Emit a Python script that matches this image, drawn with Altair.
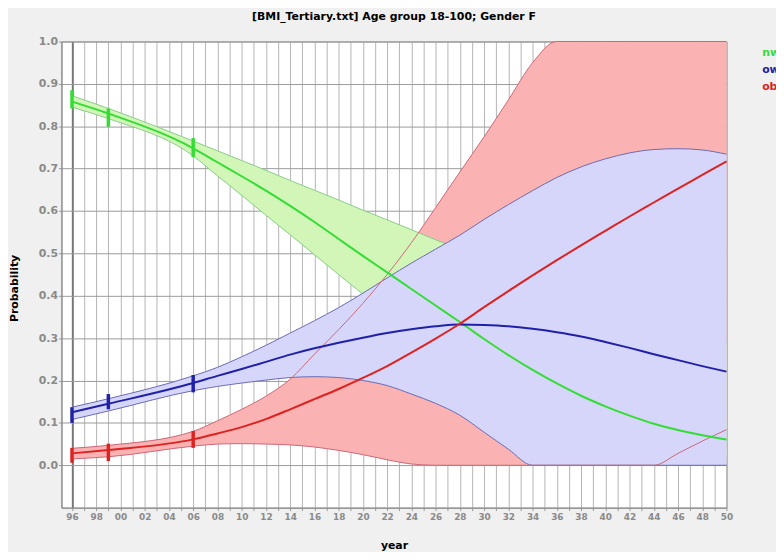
import altair as alt
import pandas as pd

TITLE = "[BMI_Tertiary.txt] Age group 18-100; Gender F"
SERIES = ["nw", "ow", "ob"]

YEARS = [1996, 1999, 2006, 2008, 2010, 2012, 2014, 2016, 2018, 2020, 2022, 2024,
         2026, 2028, 2030, 2032, 2034, 2036, 2038, 2040, 2042, 2044, 2046, 2048, 2050]

NW_MID = [.858, .830, .748, .715, .682, .648, .612, .574, .534, .494, .455, .416,
          .377, .338, .298, .260, .225, .193, .164, .139, .117, .098, .083, .071, .061]
NW_HI = [.872, .842, .765, .742, .719, .696, .672, .649, .626, .602, .579, .556,
         .532, .510, .490, .470, .450, .430, .410, .390, .370, .350, .330, .310, .290]
NW_LO = [.845, .818, .730, .683, .637, .590, .544, .497, .450, .404, .360, .320,
         .280, .245, .210, .180, .150, .125, .100, .080, .065, .050, .040, .030, .020]

OW_MID = [.125, .145, .194, .211, .227, .244, .261, .276, .289, .301, .312, .321,
          .328, .332, .331, .328, .322, .314, .304, .291, .277, .262, .248, .234, .221]
OW_HI = [.137, .157, .211, .231, .256, .283, .312, .341, .372, .406, .442, .477,
         .510, .543, .580, .615, .648, .679, .704, .723, .737, .745, .747, .744, .734]
OW_LO = [.108, .128, .176, .186, .194, .201, .207, .209, .207, .200, .188, .168,
         .146, .118, .078, .038, 0, 0, 0, 0, 0, 0, 0, 0, 0]

OB_MID = [.028, .036, .061, .075, .090, .109, .132, .156, .180, .206, .234, .266,
          .299, .334, .373, .411, .448, .484, .519, .553, .587, .620, .653, .685, .717]
OB_HI = [.040, .047, .080, .105, .132, .163, .203, .262, .320, .382, .450, .525,
         .608, .692, .775, .862, .950, 1, 1, 1, 1, 1, 1, 1, 1]
OB_LO = [.015, .020, .045, .050, .051, .050, .048, .043, .035, .025, .013, .003,
         0, 0, 0, 0, 0, 0, 0, 0, 0, 0, .028, .057, .084]

OBS_YEARS = [1996, 1999, 2006]
NW_ERR_LO = [.842, .799, .727]
NW_ERR_HI = [.885, .842, .772]
OW_ERR_LO = [.100, .132, .172]
OW_ERR_HI = [.137, .168, .213]
OB_ERR_LO = [.006, .010, .041]
OB_ERR_HI = [.041, .051, .081]

Y_TICKS = [0.0, 0.1, 0.2, 0.3, 0.4, 0.5, 0.6, 0.7, 0.8, 0.9, 1.0]
X_TICKS = list(range(1996, 2051))

LINE_COL = {"nw": "#33dd33", "ow": "#2020a8", "ob": "#dd2222"}
FILL_COL = {"nw": "#d2f6b8", "ow": "#d6d6fa", "ob": "#fbb2b2"}
EDGE_COL = {"nw": "#88cc88", "ow": "#6a6ab4", "ob": "#cc6677"}

df = pd.DataFrame({
    "year": YEARS,
    "nw": NW_MID, "nw_hi": NW_HI, "nw_lo": NW_LO,
    "ow": OW_MID, "ow_hi": OW_HI, "ow_lo": OW_LO,
    "ob": OB_MID, "ob_hi": OB_HI, "ob_lo": OB_LO,
})
err = pd.DataFrame({
    "year": OBS_YEARS,
    "nw_lo": NW_ERR_LO, "nw_hi": NW_ERR_HI,
    "ow_lo": OW_ERR_LO, "ow_hi": OW_ERR_HI,
    "ob_lo": OB_ERR_LO, "ob_hi": OB_ERR_HI,
})
leg = pd.DataFrame({"name": SERIES, "pos": [12, 29, 46]})

FONT = "DejaVu Sans"
xscale = alt.Scale(domain=[1995.13, 2050], nice=False, zero=False)
yscale = alt.Scale(domain=[-0.1, 1.0], nice=False, zero=False)

xaxis = alt.Axis(
    title="year", values=X_TICKS,
    labelExpr="datum.value % 2 == 0 ? slice(toString(100 + datum.value % 100), 1) : ''",
    labelOverlap=False, labelFlush=False, labelFont=FONT, labelFontSize=9,
    labelFontWeight="bold", labelColor="#8a8a8a", labelPadding=2,
    tickSize=3, tickColor="#999999", domainColor="#8a8a8a",
    grid=True,
    gridColor={"condition": {"test": "datum.value == 1996", "value": "#777777"}, "value": "#b4b4b4"},
    gridWidth={"condition": {"test": "datum.value == 1996", "value": 2}, "value": 1},
    titleFont=FONT, titleFontSize=11, titleFontWeight="bold", titleColor="black",
    titleX=336, titleY=38, titleBaseline="middle", titleAlign="center",
)
yaxis = alt.Axis(
    title="Probability", values=Y_TICKS, format=".1f",
    labelFont=FONT, labelFontSize=11, labelFontWeight="bold", labelColor="#8a8a8a",
    labelPadding=1, tickSize=3, tickColor="#999999", domainColor="#8a8a8a",
    grid=True, gridColor="#9a9a9a", gridWidth=1,
    titleFont=FONT, titleFontSize=11, titleFontWeight="bold", titleColor="black",
    titleX=-47, titleY=249, titleAngle=270, titleBaseline="middle", titleAlign="center",
)


def X():
    return alt.X("year:Q", scale=xscale, axis=xaxis)


def Y(field):
    return alt.Y(f"{field}:Q", scale=yscale, axis=yaxis)


base = alt.Chart(df)


def band(s):
    return base.mark_area(interpolate="monotone", color=FILL_COL[s], opacity=1).encode(
        x=X(), y=Y(f"{s}_lo"), y2=f"{s}_hi:Q")


def edges(s):
    return [base.mark_line(interpolate="monotone", color=EDGE_COL[s], strokeWidth=1).encode(
        x=X(), y=Y(f"{s}_{k}")) for k in ("lo", "hi")]


def center(s):
    return base.mark_line(interpolate="monotone", color=LINE_COL[s], strokeWidth=2).encode(
        x=X(), y=Y(s))


def errbar(s):
    return alt.Chart(err).mark_rule(color=LINE_COL[s], strokeWidth=3.5).encode(
        x=X(), y=Y(f"{s}_lo"), y2=f"{s}_hi:Q")


legend = alt.Chart(leg).mark_text(
    align="left", baseline="middle", font=FONT, fontSize=11, fontWeight="bold"
).encode(
    x=alt.value(708),
    y=alt.Y("pos:Q", scale=None, axis=None),
    text="name:N",
    color=alt.Color("name:N", scale=alt.Scale(domain=SERIES, range=[LINE_COL[s] for s in SERIES]), legend=None),
)

layers = [band("ob"), band("nw")] + edges("nw") + [band("ow")] + edges("ow") + edges("ob") + \
    [center("nw"), center("ow"), center("ob"), errbar("nw"), errbar("ow"), errbar("ob"), legend]

chart = alt.layer(*layers).resolve_scale(color="independent").properties(
    width=672, height=471,
    autosize=alt.AutoSizeParams(type="none"),
    padding={"left": 54, "top": 31, "right": 50, "bottom": 42},
    background="#f0f0f0",
    title=alt.TitleParams(text=TITLE, font=FONT, fontSize=11, fontWeight="bold",
                          color="black", anchor="middle", offset=3, baseline="bottom"),
).configure_view(fill="white", stroke="#8a8a8a", strokeWidth=1)

chart.save("out.html", embed_options={"renderer": "svg", "actions": False})
